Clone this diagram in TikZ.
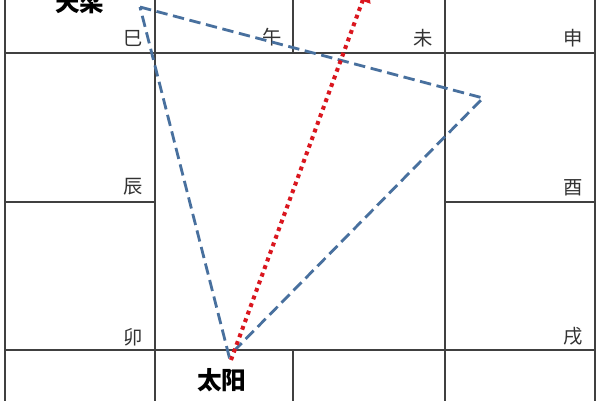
\documentclass[tikz,border=0pt]{standalone}
\usepackage{fontspec}
\newfontfamily\cjk{Noto Sans CJK SC}
\usetikzlibrary{arrows.meta}
\definecolor{triblue}{RGB}{72,112,158}
\definecolor{sightred}{RGB}{218,22,30}

\begin{document}
\begin{tikzpicture}[x=0.02cm,y=-0.02cm,
  gridline/.style={draw=black!75,line width=0.8pt},
  branch/.style={font=\cjk\fontsize{11pt}{11pt}\selectfont,text=black!80,anchor=south east,inner sep=0pt},
  star/.style={font=\cjk\bfseries\fontsize{14pt}{14pt}\selectfont,anchor=base,inner sep=0pt},
  tri/.style={draw=triblue,dash pattern=on 6.5pt off 3.2pt,line width=1.6pt},
  sight/.style={draw=sightred,dash pattern=on 2.2pt off 2.4pt,line width=2.3pt}]
\useasboundingbox (0,0) rectangle (600,400);
\clip (0,0) rectangle (600,400);
\fill[white] (0,0) rectangle (600,400);
% grid
\draw[gridline] (5,-5) -- (5,405);
\draw[gridline] (155,-5) -- (155,405);
\draw[gridline] (445,-5) -- (445,405);
\draw[gridline] (595,-5) -- (595,405);
\draw[gridline] (293,-5) -- (293,53);
\draw[gridline] (293,350) -- (293,405);
\draw[gridline] (5,53) -- (595,53);
\draw[gridline] (5,350) -- (595,350);
\draw[gridline] (5,202) -- (155,202);
\draw[gridline] (445,202) -- (595,202);

% branches
\node[branch] (si) at (143,47) {巳};
\node[branch] (wu) at (282,46) {午};
\node[branch] (wei) at (433,47) {未};
\node[branch] (shen) at (583,47) {申};
\node[branch] (chen) at (143,196) {辰};
\node[branch] (you) at (583,196) {酉};
\node[branch] (mao) at (143,346) {卯};
\node[branch] (xu) at (583,346) {戌};

% stars
\node[star] (tianliang) at (80,11) {天梁};
\node[star] (taiyang) at (222,389) {太阳};

% triangle
\coordinate (A) at (140,7);
\coordinate (B) at (483,98);
\coordinate (C) at (229,356);
\draw[tri] (A) -- (B) -- (C) -- cycle;

% arrow
\coordinate (P) at (231,360);
\coordinate (Q) at (368,-14);
\draw[sight,-{Triangle[width=9pt,length=9pt]}] (P) -- (Q);

\end{tikzpicture}
\end{document}
